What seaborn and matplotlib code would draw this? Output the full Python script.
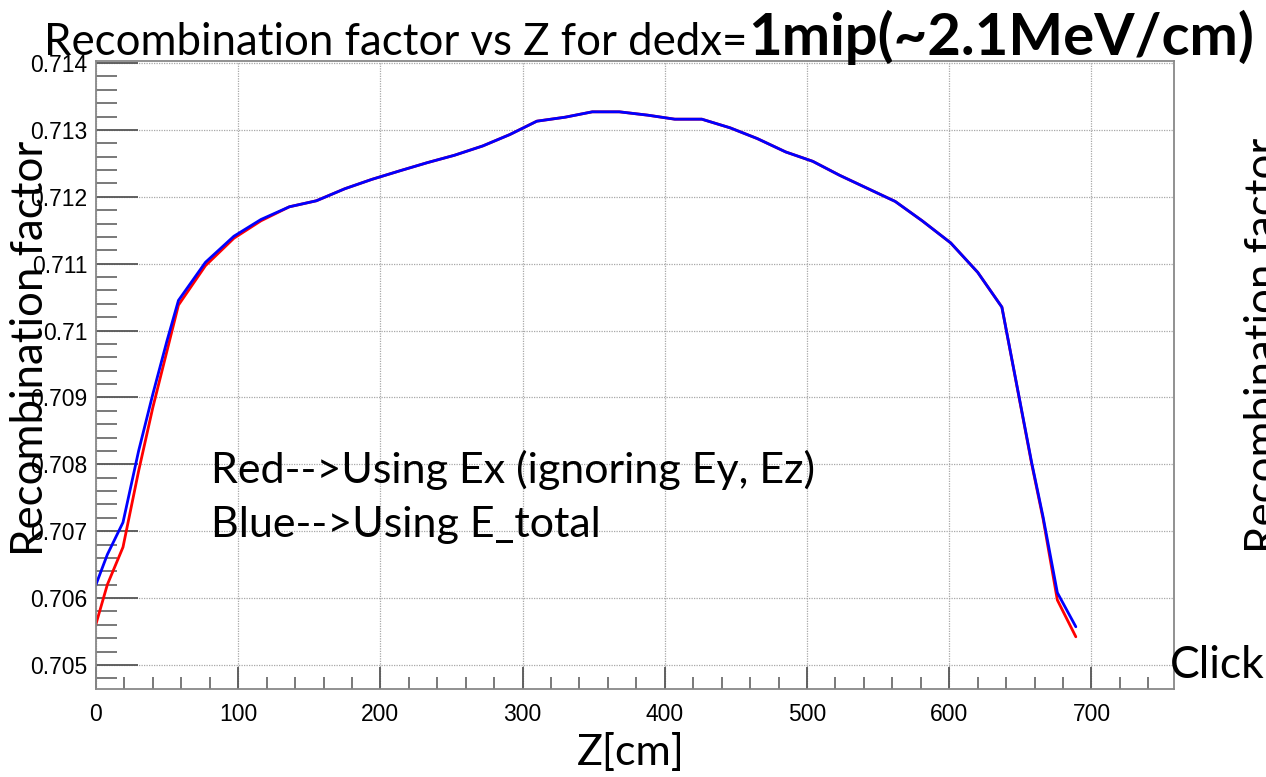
import numpy as np
import pandas as pd
import matplotlib
matplotlib.use("Agg")
import matplotlib.pyplot as plt
from matplotlib.ticker import MultipleLocator, FormatStrFormatter
import seaborn as sns

z_cm = [0, 8, 19, 30, 40, 50, 58, 77, 97, 116, 136, 155, 175, 194, 214, 233,
        252, 272, 291, 310, 330, 349, 368, 388, 407, 426, 446, 465, 485, 504,
        523, 543, 562, 581, 601, 620, 637, 658, 666, 676, 689]

blue_etotal = [0.70620, 0.70665, 0.70713, 0.70820, 0.70905, 0.70985, 0.71045,
               0.71102, 0.71141, 0.71166, 0.71185, 0.71194, 0.71212, 0.71226,
               0.71239, 0.71251, 0.71262, 0.71276, 0.71293, 0.71313, 0.71319,
               0.71327, 0.71327, 0.71322, 0.71316, 0.71316, 0.71303, 0.71287,
               0.71267, 0.71253, 0.71232, 0.71212, 0.71193, 0.71164, 0.71131,
               0.71087, 0.71035, 0.70802, 0.70721, 0.70608, 0.70557]

red_ex = [0.70561, 0.70620, 0.70676, 0.70790, 0.70885, 0.70970, 0.71038,
          0.71097, 0.71138, 0.71164, 0.71185, 0.71194, 0.71212, 0.71226,
          0.71239, 0.71251, 0.71262, 0.71276, 0.71293, 0.71313, 0.71319,
          0.71327, 0.71327, 0.71322, 0.71316, 0.71316, 0.71303, 0.71287,
          0.71267, 0.71253, 0.71232, 0.71212, 0.71193, 0.71164, 0.71131,
          0.71087, 0.71035, 0.70800, 0.70718, 0.70597, 0.70542]

df = pd.DataFrame({"z": z_cm, "blue": blue_etotal, "red": red_ex})

sns.set_style("white")
tick_font = "Liberation Sans"
text_font = ["Lato", "DejaVu Sans"]

fig = plt.figure(figsize=(12.66, 7.77), dpi=100)
ax = fig.add_axes([0.0758, 0.1133, 0.8515, 0.8082])

sns.lineplot(data=df, x="z", y="red", color="#ff0000", lw=2, ax=ax, sort=False)
sns.lineplot(data=df, x="z", y="blue", color="#0000ff", lw=2, ax=ax, sort=False)

ax.set_xlim(0, 758)
ax.set_ylim(0.70464, 0.71403)
ax.xaxis.set_major_locator(MultipleLocator(100))
ax.xaxis.set_minor_locator(MultipleLocator(20))
ax.yaxis.set_major_locator(MultipleLocator(0.001))
ax.yaxis.set_minor_locator(MultipleLocator(0.0002))
ax.yaxis.set_major_formatter(FormatStrFormatter("%g"))

ax.tick_params(axis="both", which="both", direction="in", color="#555555",
               bottom=True, left=True, top=False, right=False,
               labelcolor="black")
ax.tick_params(axis="y", which="major", length=30, width=1.3, pad=6)
ax.tick_params(axis="y", which="minor", length=15, width=1.1)
ax.tick_params(axis="x", which="major", length=16, width=1.3, pad=10)
ax.tick_params(axis="x", which="minor", length=9, width=1.1)
for lab in ax.get_xticklabels() + ax.get_yticklabels():
    lab.set_fontfamily(tick_font)
    lab.set_fontsize(16.5)

ax.grid(True, which="major", color="#a8a8a8", ls=(0, (1, 1)), lw=0.9)
ax.set_axisbelow(True)
for sp in ax.spines.values():
    sp.set_color("#888888")
    sp.set_linewidth(1.3)

ax.set_xlabel("")
ax.set_ylabel("")

fig.text(0.456, 0.006, "Z[cm]", fontsize=31, family=text_font, color="black",
         ha="left", va="bottom")
fig.text(0.008, 0.552, "Recombination factor", fontsize=31.5, family=text_font,
         color="black", rotation=90, ha="left", va="center")
fig.text(0.983, 0.556, "Recombination factor", fontsize=31.5, family=text_font,
         color="black", rotation=90, ha="left", va="center")
fig.text(0.924, 0.117, "Click", fontsize=32, family=text_font, color="black",
         ha="left", va="bottom")

fig.text(0.035, 0.929, "Recombination factor vs Z for dedx=", fontsize=31.5,
         family=text_font, color="black", ha="left", va="baseline")
fig.text(0.591, 0.929, "1mip(~2.1MeV/cm)", fontsize=41.8, family=text_font,
         color="black", fontweight="bold", ha="left", va="baseline")

ax.text(0.107, 0.349, "Red-->Using Ex (ignoring Ey, Ez)", transform=ax.transAxes,
        fontsize=31, family=text_font, color="black", ha="left", va="center")
ax.text(0.107, 0.261, "Blue-->Using E_total", transform=ax.transAxes,
        fontsize=31, family=text_font, color="black", ha="left", va="center")

fig.savefig("out.png", dpi=100)
